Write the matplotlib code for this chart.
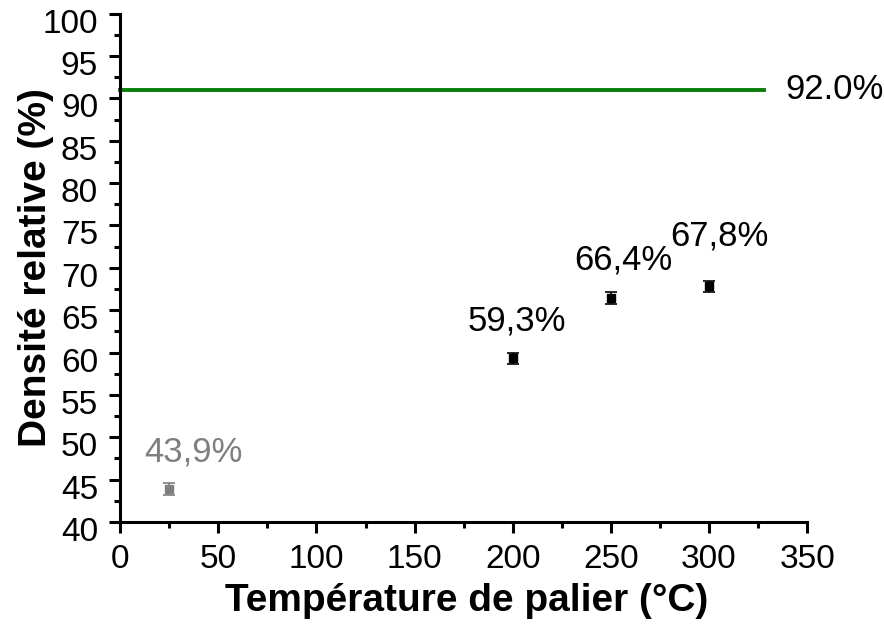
# -*- coding: utf-8 -*-

from matplotlib import pyplot as plt
from matplotlib.ticker import MultipleLocator
from matplotlib.transforms import ScaledTranslation

# Valeurs
temperatures = [25, 200, 250, 300]
densites = [43.9, 59.3, 66.4, 67.8]
erreurs = [0.7, 0.7, 0.7, 0.7]
etiquettes = ["43,9%", "59,3%", "66,4%", "67,8%"]
couleurs = ["#7f7f7f", "black", "black", "black"]

densite_cible = 91.0
etiquette_cible = "92.0%"
fin_cible = 328

# decalage des etiquettes en pixels (dx, dy)
decalages = [(24, 20), (4, 21), (13, 22), (10, 34)]

plt.rcParams['font.family'] = ['Liberation Sans', 'DejaVu Sans']

fig = plt.figure(figsize=(8.84, 6.24), dpi=100)
ax = fig.add_axes([0.136, 0.1635, 0.777, 0.8145])

ax.plot([0, fin_cible], [densite_cible, densite_cible], color="#0a7d0a", lw=2.8, clip_on=False)
ax.text(fin_cible + 11, densite_cible, etiquette_cible, fontsize=25, va="center", ha="left")

for x, y, e, lab, c, (dx, dy) in zip(temperatures, densites, erreurs, etiquettes, couleurs, decalages):
    ax.errorbar(x, y, yerr=e, fmt="s", color=c, ms=6, capsize=4, elinewidth=1.2, capthick=1.2)
    ax.annotate(lab, (x, y), xytext=(dx * 0.72, dy * 0.72), textcoords="offset points",
                ha="center", va="bottom", fontsize=25, color=c)

ax.set_xlim(0, 350)
ax.set_ylim(40, 100)
ax.xaxis.set_major_locator(MultipleLocator(50))
ax.xaxis.set_minor_locator(MultipleLocator(25))
ax.yaxis.set_major_locator(MultipleLocator(5))
ax.yaxis.set_minor_locator(MultipleLocator(2.5))

for s in ["top", "right"]:
    ax.spines[s].set_visible(False)
ax.spines["left"].set_linewidth(2.2)
ax.spines["bottom"].set_linewidth(2.2)

ax.tick_params(which="major", direction="out", length=8, width=2.2, labelsize=24, pad=8)
ax.tick_params(which="minor", direction="out", length=4, width=2.2)

# les etiquettes de l'axe Y sont un peu plus basses que les graduations
for label in ax.get_yticklabels():
    label.set_transform(label.get_transform() + ScaledTranslation(0, -0.07, fig.dpi_scale_trans))

ax.set_xlabel("Température de palier (°C)", fontsize=28, fontweight="bold")
ax.set_ylabel("Densité relative (%)", fontsize=28, fontweight="bold")
ax.xaxis.set_label_coords(0.505, -0.12)
ax.yaxis.set_label_coords(-0.096, 0.5)

plt.savefig("out.png", dpi=100)
